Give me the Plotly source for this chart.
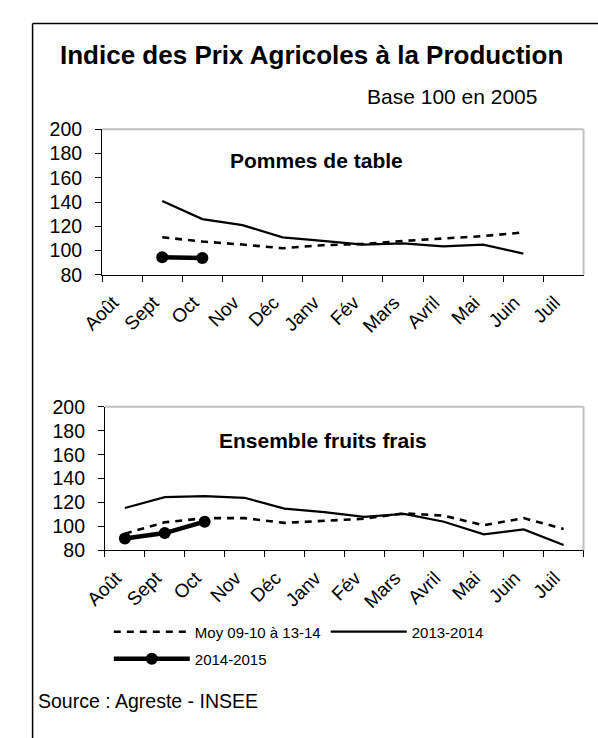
import plotly.graph_objects as go

months = ["Août", "Sept", "Oct", "Nov", "Déc", "Janv", "Fév", "Mars", "Avril", "Mai", "Juin", "Juil"]

# Pommes de table
pommes_moy = [None, 111, 107.5, 105, 102, 104.5, 105.5, 108, 110, 112, 115, None]
pommes_1314 = [None, 141, 126, 121, 111, 108, 105, 106, 103.5, 105, 97.5, None]
pommes_1415 = [None, 94.5, 94, None, None, None, None, None, None, None, None, None]

# Ensemble fruits frais
fruits_moy = [94, 103.5, 107, 107, 103, 105, 106.5, 111, 109, 101, 107, 98]
fruits_1314 = [115.5, 124.5, 125.3, 124, 115, 112, 108, 110.5, 104, 93.5, 97.5, 84.5]
fruits_1415 = [90, 94.5, 104, None, None, None, None, None, None, None, None, None]

y_ticks = [80, 100, 120, 140, 160, 180, 200]

W, H = 598, 738
FONT = "Arial, Liberation Sans, sans-serif"

def px(x):
    return x / W

def py(y):
    return 1 - y / H

fig = go.Figure()

series = [
    ("Moy 09-10 à 13-14", dict(color="black", width=2.6, dash="7px,6px"), None, "legend"),
    ("2013-2014", dict(color="black", width=2.2), None, "legend"),
    ("2014-2015", dict(color="black", width=4.5), dict(symbol="circle", size=12, color="black"), "legend2"),
]
data_top = [pommes_moy, pommes_1314, pommes_1415]
data_bot = [fruits_moy, fruits_1314, fruits_1415]

for (name, line, marker, leg), yv in zip(series, data_top):
    fig.add_trace(go.Scatter(
        x=months, y=yv, name=name, line=line,
        mode="lines+markers" if marker else "lines",
        marker=marker, xaxis="x", yaxis="y", showlegend=False,
        connectgaps=False, hoverinfo="skip"))

for (name, line, marker, leg), yv in zip(series, data_bot):
    fig.add_trace(go.Scatter(
        x=months, y=yv, name=name, line=line,
        mode="lines+markers" if marker else "lines",
        marker=marker, xaxis="x2", yaxis="y2", showlegend=True, legend=leg,
        connectgaps=False, hoverinfo="skip"))

xaxis_common = dict(
    type="category", categoryorder="array", categoryarray=months,
    range=[-0.5, 11.5], tickson="boundaries", ticks="outside", ticklen=6,
    tickcolor="black", tickwidth=1, showline=True, linecolor="black", linewidth=1,
    showgrid=False, zeroline=False, tickangle=-45,
    ticklabelshift=-9, ticklabelstandoff=8,
    tickfont=dict(family=FONT, size=19, color="black"), fixedrange=True,
)
yaxis_common = dict(
    range=[80, 200], tickvals=y_ticks, ticks="outside", ticklen=6,
    tickcolor="black", tickwidth=1, showline=True, linecolor="black", linewidth=1,
    showgrid=False, zeroline=False, ticklabelstandoff=9,
    tickfont=dict(family=FONT, size=19.5, color="black"), fixedrange=True,
)

fig.update_layout(
    width=W, height=H, autosize=False,
    margin=dict(l=0, r=0, t=0, b=0),
    paper_bgcolor="white", plot_bgcolor="white",
    font=dict(family=FONT, color="black"),
    xaxis=dict(domain=[px(84), px(583)], anchor="y", **xaxis_common),
    yaxis=dict(domain=[py(272), py(122)], anchor="x", **yaxis_common),
    xaxis2=dict(domain=[px(87), px(583)], anchor="y2", **xaxis_common),
    yaxis2=dict(domain=[py(556), py(408)], anchor="x2", **yaxis_common),
    legend=dict(orientation="h", x=px(91), y=py(623), xanchor="left", yanchor="top",
                itemwidth=76, font=dict(family=FONT, size=15, color="black"),
                bgcolor="rgba(0,0,0,0)", tracegroupgap=0, traceorder="normal"),
    legend2=dict(orientation="h", x=px(91), y=py(651), xanchor="left", yanchor="top",
                 itemwidth=76, font=dict(family=FONT, size=15, color="black"),
                 bgcolor="rgba(0,0,0,0)"),
    showlegend=True,
)

shapes = []
for xr, yr in (("x", "y"), ("x2", "y2")):
    shapes.append(dict(type="line", xref=f"{xr} domain", yref=f"{yr} domain",
                       x0=0, x1=1, y0=1, y1=1, line=dict(color="#c0c0c0", width=2)))
    shapes.append(dict(type="line", xref=f"{xr} domain", yref=f"{yr} domain",
                       x0=1, x1=1, y0=0, y1=1, line=dict(color="#c0c0c0", width=2)))
# outer frame (left and top edges visible)
shapes.append(dict(type="line", xref="paper", yref="paper", x0=px(12), x1=1.02,
                   y0=py(13), y1=py(13), line=dict(color="black", width=1.5)))
shapes.append(dict(type="line", xref="paper", yref="paper", x0=px(12), x1=px(12),
                   y0=py(13), y1=-0.02, line=dict(color="black", width=1.5)))
fig.update_layout(shapes=shapes)

annotations = [
    dict(text="<b>Indice des Prix Agricoles à la Production</b>", x=px(301), y=py(45),
         font=dict(family=FONT, size=26, color="black")),
    dict(text="Base 100 en 2005", x=px(357), y=py(88), xanchor="left",
         font=dict(family=FONT, size=21, color="black")),
    dict(text="<b>Pommes de table</b>", x=px(306), y=py(154),
         font=dict(family=FONT, size=21, color="black")),
    dict(text="<b>Ensemble fruits frais</b>", x=px(313), y=py(443),
         font=dict(family=FONT, size=21, color="black")),
    dict(text="Source : Agreste - INSEE", x=px(16), y=py(711), xanchor="left",
         font=dict(family=FONT, size=19.5, color="black")),
]
for a in annotations:
    a.update(xref="paper", yref="paper", showarrow=False, yanchor="middle")
fig.update_layout(annotations=annotations)

fig.write_html("out.html", config={"displayModeBar": False, "staticPlot": True},
               post_script="document.body.style.margin='0px';document.body.style.overflow='hidden';")
